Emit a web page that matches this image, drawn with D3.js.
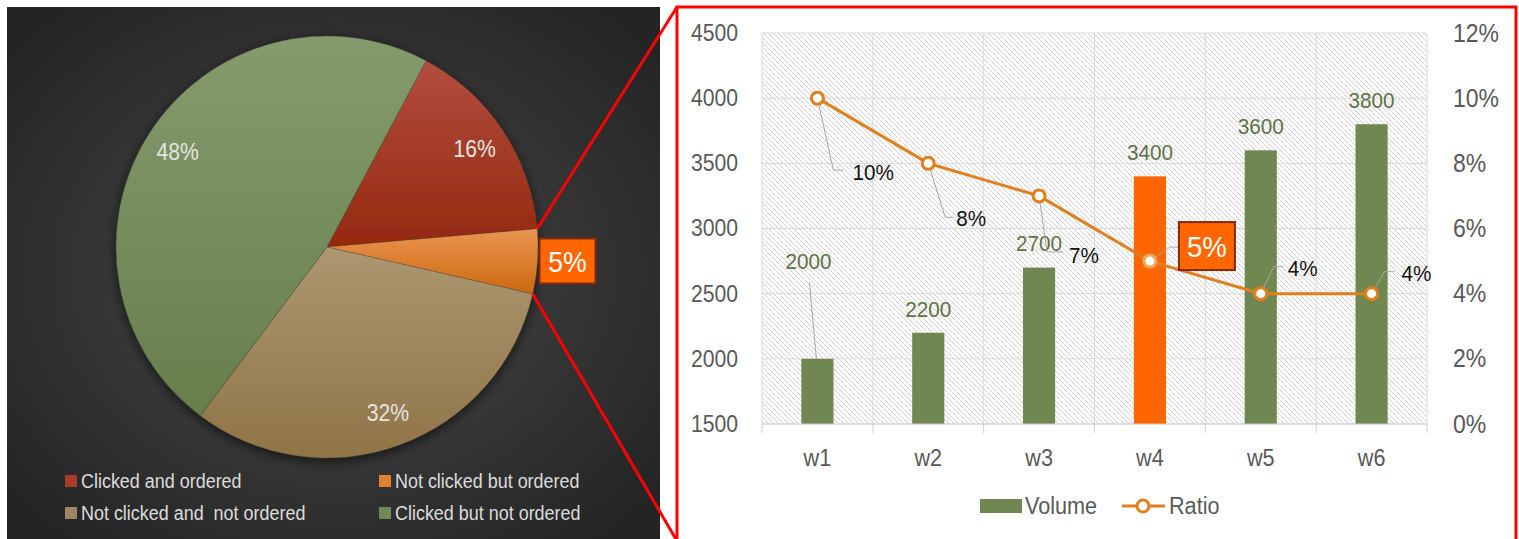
<!DOCTYPE html>
<html><head><meta charset="utf-8">
<script src="https://cdn.jsdelivr.net/npm/d3@7/dist/d3.min.js"></script>
<style>
html,body{margin:0;padding:0;background:#fff;}
svg{display:block;font-family:"Liberation Sans",Arial,sans-serif;}
text{white-space:pre;}
</style></head>
<body>
<svg id="chart" width="1519" height="539"></svg>
<script>
// ---------- data ----------
const pieCategories = ["Clicked and ordered", "Not clicked but ordered", "Not clicked and  not ordered", "Clicked but not ordered"];
const pieValues = [16, 5, 32, 48];
const pieLabels = ["16%", "5%", "32%", "48%"];

const weeks = ["w1", "w2", "w3", "w4", "w5", "w6"];
const volume = [2000, 2200, 2700, 3400, 3600, 3800];
const ratio = [0.10, 0.08, 0.07, 0.05, 0.04, 0.04];
const ratioLabels = ["10%", "8%", "7%", "5%", "4%", "4%"];
const leftTicks = [1500, 2000, 2500, 3000, 3500, 4000, 4500];
const rightTicks = [0, 0.02, 0.04, 0.06, 0.08, 0.10, 0.12];
const rightTickLabels = ["0%", "2%", "4%", "6%", "8%", "10%", "12%"];
const seriesNames = ["Volume", "Ratio"];

// ---------- styles / layout ----------
const pieTop = ["#b34d3f", "#e99550", "#ac9771", "#859b6d"];
const pieBot = ["#94290f", "#cd6810", "#8f7447", "#677e4b"];
const legendColors = ["#a83a2a", "#e0812f", "#a08660", "#73885a"];
const greenBar = "#708752", highlight = "#ff6600", lineCol = "#e27f1d";
const K = 0.92; // horizontal condensing of text

const svg = d3.select("#chart");
const defs = svg.append("defs");

const rg = defs.append("radialGradient").attr("id", "bg").attr("cx", "50%").attr("cy", "50%").attr("r", "65%");
rg.append("stop").attr("offset", "0%").attr("stop-color", "#4a4a4a");
rg.append("stop").attr("offset", "100%").attr("stop-color", "#242424");

pieTop.forEach((c, i) => {
  const g = defs.append("linearGradient").attr("id", "pg" + i).attr("x1", 0).attr("y1", 0).attr("x2", 0).attr("y2", 1);
  g.append("stop").attr("offset", "0%").attr("stop-color", c);
  g.append("stop").attr("offset", "100%").attr("stop-color", pieBot[i]);
});

const sh = defs.append("filter").attr("id", "shadow").attr("x", "-20%").attr("y", "-20%").attr("width", "140%").attr("height", "140%");
sh.append("feDropShadow").attr("dx", 0).attr("dy", 3).attr("stdDeviation", 6).attr("flood-color", "#000").attr("flood-opacity", 0.65);

const hatch = defs.append("pattern").attr("id", "hatch").attr("patternUnits", "userSpaceOnUse").attr("width", 5).attr("height", 5);
hatch.append("rect").attr("width", 5).attr("height", 5).attr("fill", "#fff");
hatch.append("path").attr("d", "M-1,-1 L6,6 M-1,4 L1,6 M4,-1 L6,1").attr("stroke", "#d2d2d2").attr("stroke-width", 1);

// ---------- left panel ----------
svg.append("rect").attr("x", 7).attr("y", 7).attr("width", 653).attr("height", 532).attr("fill", "url(#bg)");

const cx = 327, cy = 247, R = 211;
const pie = d3.pie().sort(null).startAngle(28 * Math.PI / 180).endAngle(28 * Math.PI / 180 + 2 * Math.PI);
const arcs = pie(pieValues);
const arc = d3.arc().innerRadius(0).outerRadius(R);
const labelArc = d3.arc().innerRadius(177).outerRadius(177);
const pg = svg.append("g").attr("transform", `translate(${cx},${cy})`);
pg.append("g").attr("filter", "url(#shadow)")
  .selectAll("path").data(arcs).join("path")
  .attr("d", arc).attr("fill", (d, i) => `url(#pg${i})`)
  .attr("stroke", "rgba(60,60,60,0.35)").attr("stroke-width", 0.8);

pg.selectAll("text.pl").data(arcs.filter((d, i) => i !== 1)).join("text")
  .attr("class", "pl")
  .attr("transform", d => `translate(${labelArc.centroid(d)})`)
  .attr("text-anchor", "middle").attr("dy", "0.35em")
  .attr("fill", "#e4e4e4").attr("font-size", 23)
  .text(d => pieLabels[d.index]);

const oa = arcs[1];
const oMid = (oa.startAngle + oa.endAngle) / 2;
const ox = cx + Math.sin(oMid) * R, oy = cy - Math.cos(oMid) * R;
svg.append("rect").attr("x", ox + 2).attr("y", oy - 23).attr("width", 56).attr("height", 45)
  .attr("fill", highlight).attr("stroke", "#7d2a10").attr("stroke-width", 2);
svg.append("text").attr("x", ox + 30).attr("y", oy).attr("dy", "0.36em").attr("text-anchor", "middle")
  .attr("fill", "#fff").attr("font-size", 29).text(pieLabels[1]);

const legX = [65, 379], legY = [481, 513];
const lg = svg.append("g").selectAll("g").data(pieCategories).join("g")
  .attr("transform", (d, i) => `translate(${legX[i % 2]},${legY[Math.floor(i / 2)]})`);
lg.append("rect").attr("x", 0).attr("y", -6).attr("width", 12).attr("height", 12).attr("fill", (d, i) => legendColors[i]);
lg.append("text").attr("x", 16).attr("dy", "0.35em").attr("fill", "#dcdcdc").attr("font-size", 19.5).text(d => d);

// ---------- right panel ----------
svg.append("rect").attr("x", 677).attr("y", 7).attr("width", 839).attr("height", 545)
  .attr("fill", "#fff").attr("stroke", "#ff0000").attr("stroke-width", 3);

const a0 = arcs[1].startAngle, a1 = arcs[1].endAngle;
svg.append("line").attr("x1", cx + Math.sin(a0) * R).attr("y1", cy - Math.cos(a0) * R).attr("x2", 677).attr("y2", 7)
  .attr("stroke", "#ff0000").attr("stroke-width", 3);
svg.append("line").attr("x1", cx + Math.sin(a1) * R).attr("y1", cy - Math.cos(a1) * R).attr("x2", 677).attr("y2", 541)
  .attr("stroke", "#ff0000").attr("stroke-width", 3);

const x = d3.scaleBand().domain(weeks).range([762, 1427]).padding(0);
const yL = d3.scaleLinear().domain([1500, 4500]).range([424, 33]);
const yR = d3.scaleLinear().domain([0, 0.12]).range([424, 33]);
const bw = x.bandwidth() * 0.29;

svg.append("rect").attr("x", 762).attr("y", 33).attr("width", 665).attr("height", 391).attr("fill", "url(#hatch)");

svg.append("g").selectAll("line").data(leftTicks).join("line")
  .attr("x1", 762).attr("x2", 1427).attr("y1", d => yL(d)).attr("y2", d => yL(d))
  .attr("stroke", "#d9d9d9").attr("stroke-width", 1);
const bounds = weeks.map(w => x(w)).concat([x.range()[1]]);
svg.append("g").selectAll("line").data(bounds).join("line")
  .attr("x1", d => d).attr("x2", d => d).attr("y1", 33).attr("y2", 424)
  .attr("stroke", "#d9d9d9").attr("stroke-width", 1);
svg.append("g").selectAll("line").data(bounds).join("line")
  .attr("x1", d => d).attr("x2", d => d).attr("y1", 424).attr("y2", 433)
  .attr("stroke", "#d0d0d0").attr("stroke-width", 1);

svg.append("g").selectAll("rect").data(volume).join("rect")
  .attr("x", (d, i) => x(weeks[i]) + x.bandwidth() / 2 - bw / 2)
  .attr("y", d => yL(d)).attr("width", bw).attr("height", d => yL(1500) - yL(d))
  .attr("fill", (d, i) => i === 3 ? highlight : greenBar);

const axL = svg.append("g").attr("transform", "translate(762,0)")
  .call(d3.axisLeft(yL).tickValues(leftTicks).tickSize(0).tickPadding(24).tickFormat(d3.format("d")));
const axR = svg.append("g").attr("transform", "translate(1427,0)")
  .call(d3.axisRight(yR).tickValues(rightTicks).tickSize(0).tickPadding(26).tickFormat((d, i) => rightTickLabels[i]));
const axB = svg.append("g").attr("transform", "translate(0,424)")
  .call(d3.axisBottom(x).tickSize(0).tickPadding(25));
[axL, axR, axB].forEach(a => {
  a.select(".domain").remove();
  a.selectAll("text").attr("fill", "#595959").attr("font-family", "Liberation Sans, Arial, sans-serif");
});
axL.selectAll("text").attr("font-size", 23);
axR.selectAll("text").attr("font-size", 25);
axB.selectAll("text").attr("font-size", 23.5);
svg.append("line").attr("x1", 762).attr("x2", 1427).attr("y1", 424).attr("y2", 424).attr("stroke", "#d0d0d0");

const cxOf = i => x(weeks[i]) + x.bandwidth() / 2;
const barLabelDx = [-9, 0, 0, 0, 0, 0];
const barLabelDy = [-98, -24, -24, -24, -24, -24];
svg.append("line").attr("x1", cxOf(0) - 8).attr("y1", yL(volume[0]) - 76).attr("x2", cxOf(0) - 1).attr("y2", yL(volume[0]))
  .attr("stroke", "#a6a6a6").attr("stroke-width", 1);
svg.append("g").selectAll("text").data(volume).join("text")
  .attr("x", (d, i) => cxOf(i) + barLabelDx[i]).attr("y", (d, i) => yL(d) + barLabelDy[i])
  .attr("dy", "0.35em").attr("text-anchor", "middle").attr("fill", "#5f7148").attr("font-size", 22.5)
  .text(d => d);

const elbow = [[16, 72], [17, 54], [8, 56], [20, -14], [13, -27], [13, -22]];
const leadEnd = [26, 25, 24, 29, 23, 23];
const labelOff = [[35, 74], [28, 55], [30, 59], [0, 0], [27, -26], [30, -21]];
svg.append("g").selectAll("path").data(ratio).join("path")
  .attr("d", (d, i) => {
    const mx = cxOf(i), my = yR(d);
    return `M${mx},${my} L${mx + elbow[i][0]},${my + elbow[i][1]} L${mx + leadEnd[i]},${my + elbow[i][1]}`;
  })
  .attr("fill", "none").attr("stroke", "#a6a6a6").attr("stroke-width", 1);

const line = d3.line().x((d, i) => cxOf(i)).y(d => yR(d));
svg.append("path").datum(ratio).attr("d", line).attr("fill", "none").attr("stroke", lineCol).attr("stroke-width", 3);
svg.append("g").selectAll("circle").data(ratio).join("circle")
  .attr("cx", (d, i) => cxOf(i)).attr("cy", d => yR(d)).attr("r", 6)
  .attr("fill", "#fff").attr("stroke", (d, i) => i === 3 ? "#eeaa5c" : lineCol).attr("stroke-width", 3);

svg.append("g").selectAll("text").data(ratio.map((d, i) => i).filter(i => i !== 3)).join("text")
  .attr("x", i => cxOf(i) + labelOff[i][0]).attr("y", i => yR(ratio[i]) + labelOff[i][1])
  .attr("dy", "0.35em").attr("fill", "#111").attr("font-size", 22.5)
  .text(i => ratioLabels[i]);
{
  const mx = cxOf(3), my = yR(ratio[3]);
  svg.append("rect").attr("x", mx + 29).attr("y", my - 39).attr("width", 56).attr("height", 48)
    .attr("fill", highlight).attr("stroke", "#7d2a10").attr("stroke-width", 2);
  svg.append("text").attr("x", mx + 57).attr("y", my - 15).attr("dy", "0.36em").attr("text-anchor", "middle")
    .attr("fill", "#fff").attr("font-size", 30).text(ratioLabels[3]);
}

const rl = svg.append("g");
rl.append("rect").attr("x", 980).attr("y", 499).attr("width", 42).attr("height", 14).attr("fill", greenBar);
rl.append("text").attr("x", 1025).attr("y", 506).attr("dy", "0.35em").attr("fill", "#595959").attr("font-size", 23.5).text(seriesNames[0]);
rl.append("line").attr("x1", 1122).attr("x2", 1165).attr("y1", 506).attr("y2", 506).attr("stroke", lineCol).attr("stroke-width", 3);
rl.append("circle").attr("cx", 1143).attr("cy", 506).attr("r", 6).attr("fill", "#fff").attr("stroke", lineCol).attr("stroke-width", 3);
rl.append("text").attr("x", 1169).attr("y", 506).attr("dy", "0.35em").attr("fill", "#595959").attr("font-size", 23.5).text(seriesNames[1]);

// condense all text horizontally
svg.selectAll("text").each(function () {
  const len = this.getComputedTextLength();
  if (len > 0) {
    this.setAttribute("textLength", (len * K).toFixed(2));
    this.setAttribute("lengthAdjust", "spacingAndGlyphs");
  }
});
</script>
</body></html>
